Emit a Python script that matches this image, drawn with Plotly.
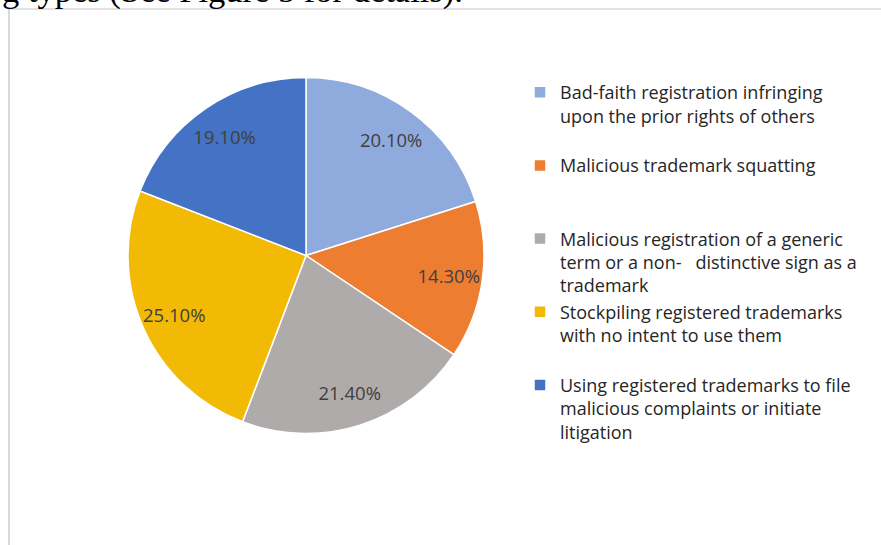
import plotly.graph_objects as go

categories = [
    "Bad-faith registration infringing<br>upon the prior rights of others<br>&nbsp;",
    "Malicious trademark squatting<br>&nbsp;<br>&nbsp;",
    "Malicious registration of a generic<br>term or a non-&nbsp;&nbsp;&nbsp;distinctive sign as a<br>trademark",
    "Stockpiling registered trademarks<br>with no intent to use them<br>&nbsp;",
    "Using registered trademarks to file<br>malicious complaints or initiate<br>litigation",
]
values = [20.1, 14.3, 21.4, 25.1, 19.1]
colors = ["#8FAADC", "#ED7D31", "#AFABAB", "#F2B905", "#4472C4"]

W, H = 881, 545
cx, cy, r = 306, 255.5, 178
dom = dict(x=[(cx - r) / W, (cx + r) / W], y=[(H - cy - r) / H, (H - cy + r) / H])

fig = go.Figure()
# filled slices
fig.add_trace(go.Pie(
    labels=categories, values=values, sort=False, direction="clockwise", rotation=0,
    marker=dict(colors=colors, line=dict(color="white", width=1.5)),
    textinfo="none", domain=dom, hoverinfo="none", showlegend=True,
))
# percentage labels placed in the outer ring of each slice
fig.add_trace(go.Pie(
    labels=categories, values=values, sort=False, direction="clockwise", rotation=0,
    hole=0.62,
    marker=dict(colors=["rgba(0,0,0,0)"] * len(values), line=dict(width=0)),
    texttemplate="%{value:.2f}%", textposition="inside", insidetextorientation="horizontal",
    textfont=dict(family="Open Sans", size=18.5, color="#404040"),
    domain=dom, hoverinfo="none", showlegend=False,
))

fig.update_layout(
    width=W, height=H,
    margin=dict(l=0, r=0, t=0, b=0),
    paper_bgcolor="white",
    showlegend=True,
    legend=dict(
        x=520 / W, y=1 - 74 / H, xanchor="left", yanchor="top",
        valign="top",
        font=dict(family="Open Sans", size=18, color="#262626"),
        bgcolor="rgba(0,0,0,0)",
    ),
    shapes=[
        dict(type="line", xref="paper", yref="paper", x0=9 / W, x1=1, y0=1 - 9 / H, y1=1 - 9 / H,
             line=dict(color="#D9D9D9", width=1.5)),
        dict(type="line", xref="paper", yref="paper", x0=9 / W, x1=9 / W, y0=0, y1=1 - 9 / H,
             line=dict(color="#D9D9D9", width=2)),
    ],
    annotations=[
        dict(text="g types (See Figure 5 for details).", xref="paper", yref="paper",
             x=0, y=1 - 11.5 / H, xanchor="left", yanchor="bottom", showarrow=False,
             font=dict(family="Liberation Serif", size=34.5, color="black")),
    ],
)

fig.write_html("out.html")
